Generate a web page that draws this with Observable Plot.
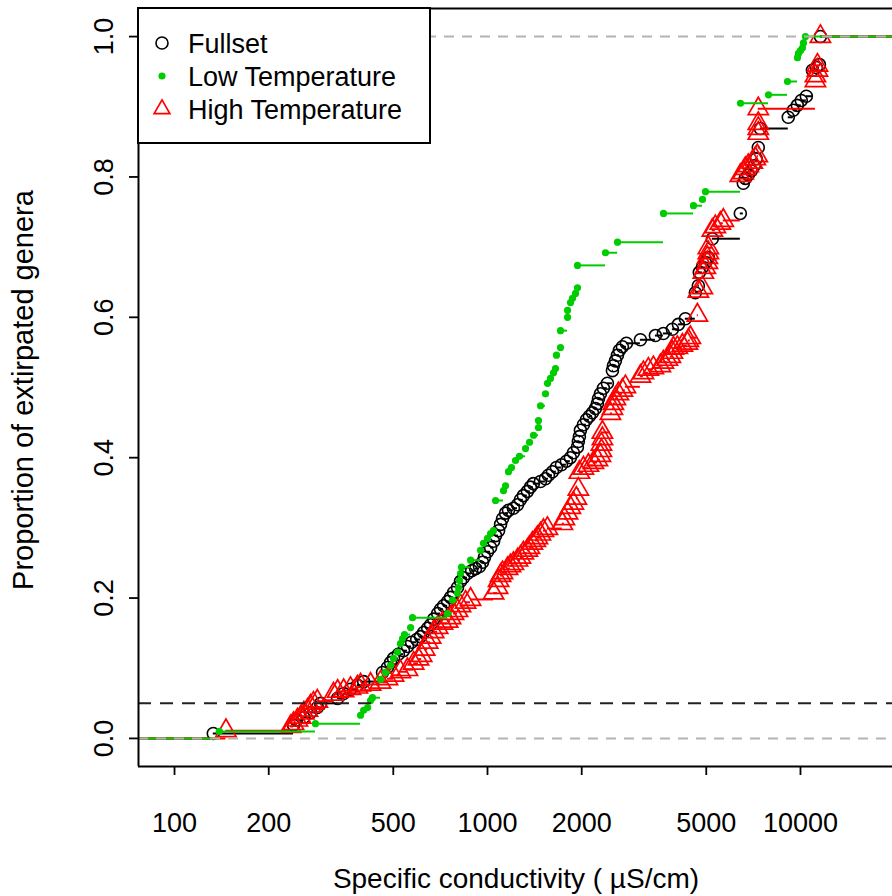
<!DOCTYPE html>
<html>
<head>
<meta charset="utf-8">
<script src="https://cdn.jsdelivr.net/npm/d3@7"></script>
<script src="https://cdn.jsdelivr.net/npm/@observablehq/plot@0.6"></script>
<style>
  html, body { margin: 0; padding: 0; background: #fff; overflow: hidden; }
  #chart svg { display: block; }
</style>
</head>
<body>
<div id="chart"></div>
<script>
// Extirpation conductivity (µS/cm) of each genus, sorted, with its cumulative proportion
const fullsetConductivity = [133, 240, 245, 259, 272, 286, 293, 332, 347, 365, 384, 402, 462, 479, 490, 501, 519, 539, 555, 572, 594, 611, 625, 644, 658, 673, 693, 708, 724, 746, 762, 779, 802, 820, 838, 863, 890, 916, 943, 964, 978, 1000, 1023, 1046, 1061, 1085, 1101, 1117, 1142, 1167, 1210, 1247, 1274, 1302, 1341, 1371, 1401, 1476, 1531, 1566, 1613, 1660, 1723, 1787, 1840, 1881, 1937, 1951, 1966, 1981, 2025, 2070, 2116, 2164, 2212, 2245, 2262, 2295, 2346, 2416, 2507, 2525, 2563, 2601, 2640, 2698, 2779, 3080, 3439, 3647, 3897, 4073, 4287, 4614, 4717, 4751, 4858, 4966, 5077, 5229, 6424, 6567, 6664, 6812, 6965, 7120, 7225, 7332, 7442, 9141, 9484, 9770, 10059, 10440, 10919, 11250, 11494, 11580];
const fullsetProportion = [0.007, 0.019, 0.026, 0.030, 0.037, 0.044, 0.050, 0.057, 0.064, 0.070, 0.076, 0.081, 0.094, 0.101, 0.108, 0.114, 0.120, 0.125, 0.131, 0.137, 0.141, 0.145, 0.151, 0.157, 0.162, 0.170, 0.178, 0.184, 0.189, 0.195, 0.201, 0.208, 0.215, 0.224, 0.229, 0.235, 0.239, 0.242, 0.245, 0.251, 0.258, 0.266, 0.272, 0.281, 0.289, 0.296, 0.305, 0.313, 0.321, 0.325, 0.328, 0.333, 0.340, 0.346, 0.352, 0.358, 0.363, 0.366, 0.370, 0.375, 0.380, 0.386, 0.390, 0.395, 0.400, 0.407, 0.415, 0.423, 0.430, 0.439, 0.447, 0.454, 0.459, 0.464, 0.470, 0.477, 0.484, 0.491, 0.499, 0.506, 0.524, 0.531, 0.538, 0.546, 0.553, 0.558, 0.563, 0.568, 0.574, 0.577, 0.583, 0.590, 0.598, 0.635, 0.645, 0.664, 0.671, 0.678, 0.685, 0.712, 0.748, 0.791, 0.798, 0.803, 0.809, 0.816, 0.826, 0.842, 0.869, 0.885, 0.895, 0.902, 0.909, 0.915, 0.952, 0.956, 0.960, 1.0];

const lowTempConductivity = [139, 282, 393, 402, 414, 423, 429, 455, 472, 490, 501, 516, 527, 535, 543, 568, 576, 745, 773, 802, 808, 814, 820, 826, 883, 950, 971, 1000, 1023, 1045, 1061, 1125, 1142, 1167, 1193, 1229, 1265, 1323, 1362, 1403, 1455, 1455, 1477, 1532, 1555, 1590, 1625, 1649, 1661, 1711, 1711, 1802, 1802, 1842, 1869, 1911, 1939, 1939, 2382, 2603, 3650, 4552, 4863, 4972, 6432, 7904, 9090, 9782, 9854, 10000, 10150, 10224, 10375];
const lowTempProportion = [0.010, 0.021, 0.033, 0.040, 0.044, 0.054, 0.058, 0.084, 0.094, 0.104, 0.114, 0.123, 0.135, 0.142, 0.148, 0.158, 0.172, 0.178, 0.197, 0.207, 0.215, 0.225, 0.235, 0.244, 0.254, 0.268, 0.278, 0.285, 0.292, 0.296, 0.339, 0.353, 0.360, 0.380, 0.386, 0.396, 0.402, 0.413, 0.422, 0.432, 0.443, 0.453, 0.474, 0.491, 0.506, 0.513, 0.521, 0.527, 0.546, 0.557, 0.581, 0.600, 0.610, 0.621, 0.627, 0.634, 0.642, 0.674, 0.692, 0.707, 0.748, 0.759, 0.768, 0.779, 0.905, 0.917, 0.936, 0.970, 0.976, 0.980, 0.984, 0.991, 1.0];

const highTempConductivity = [146, 235, 240, 247, 253, 259, 266, 272, 278, 286, 322, 332, 347, 365, 384, 393, 423, 455, 479, 501, 527, 555, 581, 602, 616, 630, 644, 658, 673, 693, 718, 746, 762, 779, 802, 820, 851, 883, 1046, 1077, 1085, 1101, 1117, 1159, 1184, 1210, 1247, 1274, 1302, 1341, 1361, 1391, 1422, 1444, 1476, 1509, 1554, 1735, 1761, 1802, 1840, 1881, 1923, 1951, 1966, 2025, 2101, 2180, 2245, 2295, 2312, 2312, 2329, 2329, 2470, 2507, 2525, 2563, 2619, 2698, 2758, 3080, 3149, 3266, 3389, 3568, 3647, 3757, 3840, 3897, 3926, 4043, 4194, 4352, 4384, 4448, 4683, 4717, 4858, 4894, 4966, 5040, 5040, 5077, 5077, 5229, 5345, 5546, 5669, 6424, 6567, 6664, 6812, 7016, 7172, 7278, 7332, 7332, 7332, 7332, 11162, 11162, 11330, 11330, 11580];
const highTempProportion = [0.011, 0.017, 0.021, 0.026, 0.030, 0.036, 0.040, 0.046, 0.050, 0.053, 0.063, 0.067, 0.068, 0.071, 0.073, 0.076, 0.077, 0.080, 0.085, 0.090, 0.095, 0.098, 0.107, 0.113, 0.118, 0.127, 0.137, 0.144, 0.152, 0.158, 0.164, 0.167, 0.172, 0.178, 0.182, 0.189, 0.194, 0.198, 0.207, 0.215, 0.225, 0.232, 0.236, 0.242, 0.246, 0.249, 0.254, 0.258, 0.264, 0.268, 0.272, 0.278, 0.282, 0.286, 0.291, 0.296, 0.299, 0.306, 0.313, 0.321, 0.329, 0.335, 0.342, 0.355, 0.379, 0.385, 0.389, 0.393, 0.397, 0.403, 0.410, 0.419, 0.427, 0.436, 0.463, 0.470, 0.477, 0.484, 0.491, 0.496, 0.501, 0.516, 0.521, 0.526, 0.528, 0.531, 0.536, 0.540, 0.544, 0.550, 0.556, 0.557, 0.560, 0.563, 0.567, 0.571, 0.603, 0.637, 0.642, 0.664, 0.671, 0.678, 0.685, 0.692, 0.699, 0.724, 0.729, 0.734, 0.738, 0.802, 0.806, 0.812, 0.816, 0.821, 0.826, 0.830, 0.862, 0.869, 0.876, 0.897, 0.937, 0.944, 0.952, 0.959, 1.0];

const seriesLabels = ["Fullset", "Low Temperature", "High Temperature"];
const xTicks = [100, 200, 500, 1000, 2000, 5000, 10000];
const xTickLabels = ["100", "200", "500", "1000", "2000", "5000", "10000"];
const yTicks = [0, 0.2, 0.4, 0.6, 0.8, 1.0];
const boundLevels = [0, 1];      // grey dashed 0 / 1 reference lines
const hazardLevels = [0.05];     // 5% extirpation level
const xLabel = "Specific conductivity ( \u00b5S/cm)";
const yLabel = "Proportion of extirpated genera";

const xDomain = [76.72, 19680];
const yDomain = [-0.04, 1.04];
const FONT = "'Liberation Sans', Arial, Helvetica, sans-serif";
const GREEN = "#00CD00", RED = "#FF0000", BLACK = "#000000";
const TRI_R = 7.5;

// Points plus horizontal step segments of an empirical distribution
function steps(xs, ys) {
  const pts = xs.map((x, i) => ({conductivity: x, proportion: ys[i]}));
  const segs = [{x1: xDomain[0], x2: xs[0], proportion: 0}];
  xs.forEach((x, i) => segs.push({x1: x, x2: i + 1 < xs.length ? xs[i + 1] : xDomain[1], proportion: ys[i]}));
  return {pts, segs};
}
const full = steps(fullsetConductivity, fullsetProportion);
const low = steps(lowTempConductivity, lowTempProportion);
const high = steps(highTempConductivity, highTempProportion);

const plot = Plot.plot({
  width: 892,
  height: 896,
  marginLeft: 138,
  marginRight: 0,
  marginTop: 8,
  marginBottom: 130,
  x: {type: "log", domain: xDomain, label: null},
  y: {domain: yDomain, label: null},
  style: {fontFamily: FONT, fontSize: "27px", color: "#000", background: "#fff", overflow: "visible"},
  marks: [
    Plot.ruleY(full.segs, {x1: "x1", x2: "x2", y: "proportion", stroke: BLACK, strokeWidth: 2}),
    Plot.dot(full.pts, {x: "conductivity", y: "proportion", r: 6, stroke: BLACK, strokeWidth: 1.6, fill: "none"}),
    Plot.ruleY(high.segs, {x1: "x1", x2: "x2", y: "proportion", stroke: RED, strokeWidth: 2}),
    Plot.dot(high.pts, {x: "conductivity", y: "proportion", symbol: "triangle", r: TRI_R, stroke: RED, strokeWidth: 1.7, fill: "none"}),
    Plot.ruleY(low.segs, {x1: "x1", x2: "x2", y: "proportion", stroke: GREEN, strokeWidth: 2}),
    Plot.dot(low.pts, {x: "conductivity", y: "proportion", r: 3.6, fill: GREEN, stroke: "none"}),
    Plot.ruleY(boundLevels, {stroke: "#B3B3B3", strokeWidth: 2, strokeDasharray: "10,8"}),
    Plot.ruleY(hazardLevels, {stroke: "#222", strokeWidth: 2, strokeDasharray: "13,9"}),
    Plot.axisX({ticks: xTicks, text: xTickLabels, tickSize: 9, tickPadding: 37, fontSize: 27, strokeWidth: 1.8, label: null}),
    Plot.axisY({ticks: yTicks, tickFormat: d => d.toFixed(1), tickSize: 9, tickPadding: 17, tickRotate: -90, fontSize: 27, strokeWidth: 1.8, label: null}),
    // plot box: left, top and bottom sides
    Plot.ruleX([xDomain[0]], {stroke: BLACK, strokeWidth: 2}),
    Plot.ruleY([yDomain[0], yDomain[1]], {stroke: BLACK, strokeWidth: 2})
  ]
});

document.getElementById("chart").appendChild(plot);

// Axis titles and legend
const svg = d3.select(plot);
svg.append("text")
  .attr("x", 516).attr("y", 888)
  .attr("text-anchor", "middle")
  .attr("font-family", FONT).attr("font-size", 28).attr("fill", "#000")
  .text(xLabel);
svg.append("text")
  .attr("transform", "translate(33,390) rotate(-90)")
  .attr("text-anchor", "middle")
  .attr("font-family", FONT).attr("font-size", 29).attr("fill", "#000")
  .text(yLabel);

const legend = svg.append("g");
legend.append("rect")
  .attr("x", 138).attr("y", 8).attr("width", 292).attr("height", 135)
  .attr("fill", "#fff").attr("stroke", "#000").attr("stroke-width", 2);
const rows = [43, 76, 109];
legend.append("circle").attr("cx", 162).attr("cy", rows[0]).attr("r", 6)
  .attr("fill", "none").attr("stroke", BLACK).attr("stroke-width", 1.6);
legend.append("circle").attr("cx", 162).attr("cy", rows[1]).attr("r", 3.6).attr("fill", GREEN);
legend.append("path")
  .attr("transform", `translate(162,${rows[2]})`)
  .attr("d", d3.symbol(d3.symbolTriangle2, TRI_R * TRI_R * Math.PI)())
  .attr("fill", "none").attr("stroke", RED).attr("stroke-width", 1.7);
seriesLabels.forEach((label, i) => {
  legend.append("text")
    .attr("x", 188).attr("y", rows[i] + 10)
    .attr("text-anchor", "start")
    .attr("font-family", FONT).attr("font-size", 27).attr("fill", "#000")
    .text(label);
});
</script>
</body>
</html>
